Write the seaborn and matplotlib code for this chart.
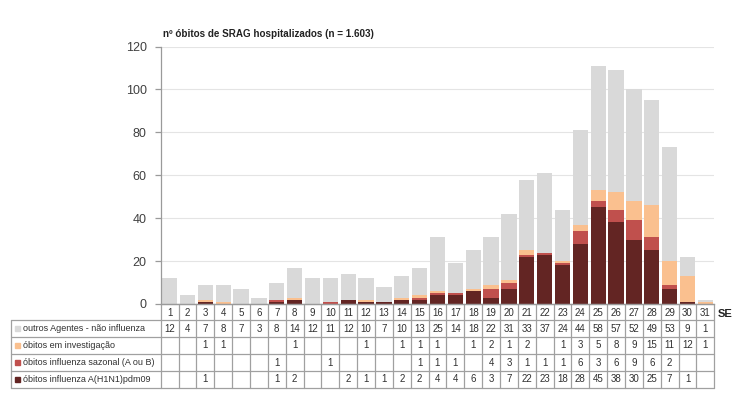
import numpy as np
import pandas as pd
import matplotlib
matplotlib.use("Agg")
import matplotlib.pyplot as plt
import seaborn as sns
from matplotlib.patches import Rectangle
from matplotlib.transforms import blended_transform_factory

# epidemiological weeks (SE) and deaths per category
weeks = [str(w) for w in range(1, 32)]
outros = [12, 4, 7, 8, 7, 3, 8, 14, 12, 11, 12, 10, 7, 10, 13, 25,
          14, 18, 22, 31, 33, 37, 24, 44, 58, 57, 52, 49, 53, 9, 1]
investigacao = [0, 0, 1, 1, 0, 0, 0, 1, 0, 0, 0, 1, 0, 1, 1, 1,
                0, 1, 2, 1, 2, 0, 1, 3, 5, 8, 9, 15, 11, 12, 1]
sazonal = [0, 0, 0, 0, 0, 0, 1, 0, 0, 1, 0, 0, 0, 0, 1, 1,
           1, 0, 4, 3, 1, 1, 1, 6, 3, 6, 9, 6, 2, 0, 0]
h1n1 = [0, 0, 1, 0, 0, 0, 1, 2, 0, 0, 2, 1, 1, 2, 2, 4,
        4, 6, 3, 7, 22, 23, 18, 28, 45, 38, 30, 25, 7, 1, 0]

labels = ['outros Agentes - não influenza',
          'óbitos em investigação',
          'óbitos influenza sazonal (A ou B)',
          'óbitos influenza A(H1N1)pdm09']
colors = ['#d9d9d9', '#fac08f', '#c0504d', '#632523']
title = 'nº óbitos de SRAG hospitalizados (n = 1.603)'

W, H = 750, 407
sns.set_style("white")
plt.rcParams['font.family'] = ['Liberation Sans', 'DejaVu Sans']

fig = plt.figure(figsize=(W / 100, H / 100), dpi=100)
ax_l, ax_r, y0_px, y120_px = 160.7, 714.3, 304, 46.5
ax = fig.add_axes([ax_l / W, 1 - y0_px / H, (ax_r - ax_l) / W, (y0_px - y120_px) / H])

df = pd.DataFrame({'SE': weeks, 'outros': outros, 'inv': investigacao,
                   'saz': sazonal, 'h1n1': h1n1})
df['c1'] = df['h1n1']
df['c2'] = df['c1'] + df['saz']
df['c3'] = df['c2'] + df['inv']
df['c4'] = df['c3'] + df['outros']

# stacked bars: draw cumulative totals from top layer down
for col, color in zip(['c4', 'c3', 'c2', 'c1'], colors):
    sns.barplot(data=df, x='SE', y=col, color=color, saturation=1,
                width=0.85, linewidth=0, ax=ax)

ax.set_xlim(-0.5, len(weeks) - 0.5)
ax.set_ylim(0, 120)
ax.set_yticks(range(0, 121, 20))
ax.set_xlabel('')
ax.set_ylabel('')
ax.set_xticks([])
ax.yaxis.grid(True, color='#e4e4e4', linewidth=0.8)
ax.set_axisbelow(True)
for s in ['top', 'right']:
    ax.spines[s].set_visible(False)
for s in ['left', 'bottom']:
    ax.spines[s].set_color('#9a9a9a')
    ax.spines[s].set_linewidth(0.9)
ax.tick_params(axis='y', left=True, length=4, color='#9a9a9a', width=0.9,
               labelsize=9, labelcolor='#404040', pad=6)

fig.text(163 / W, 1 - 34 / H, title, fontsize=7.1, fontweight='bold',
         ha='left', va='center', color='#222222')

# data table under the chart
trans = blended_transform_factory(ax.transData, fig.transFigure)
n = len(weeks)
span = (ax_r - ax_l) / n


def fy(ypx):
    return 1 - ypx / H


def dx(xpx):
    return -0.5 + (xpx - ax_l) / span


line_kw = dict(color='#a0a0a0', linewidth=0.9, transform=trans, clip_on=False)
rows_px = [304, 320, 337, 354, 371, 388]
x_left = dx(11)
for i, yp in enumerate(rows_px):
    x_start = -0.5 if i == 0 else x_left
    ax.plot([x_start, n - 0.5], [fy(yp), fy(yp)], **line_kw)
for k in range(n + 1):
    ax.plot([k - 0.5, k - 0.5], [fy(304), fy(388)], **line_kw)
ax.plot([x_left, x_left], [fy(320), fy(388)], **line_kw)

txt_kw = dict(fontsize=7, color='#303030', transform=trans, va='center')
for k, w in enumerate(weeks):
    ax.text(k, fy(312.5), w, ha='center', **txt_kw)
series = [outros, investigacao, sazonal, h1n1]
for r, vals in enumerate(series):
    yc = fy((rows_px[r + 1] + rows_px[r + 2]) / 2)
    for k, v in enumerate(vals):
        if v:
            ax.text(k, yc, str(v), ha='center', **txt_kw)
    fig.patches.append(Rectangle((15 / W, yc - 2.5 / H), 5 / W, 5 / H,
                                 transform=fig.transFigure, color=colors[r]))
    fig.text(23 / W, yc, labels[r], fontsize=6.5, color='#303030',
             ha='left', va='center')

fig.text(718 / W, fy(314), 'SE', fontsize=8, fontweight='bold',
         ha='left', va='center', color='#222222')

fig.savefig('out.png', dpi=100)
